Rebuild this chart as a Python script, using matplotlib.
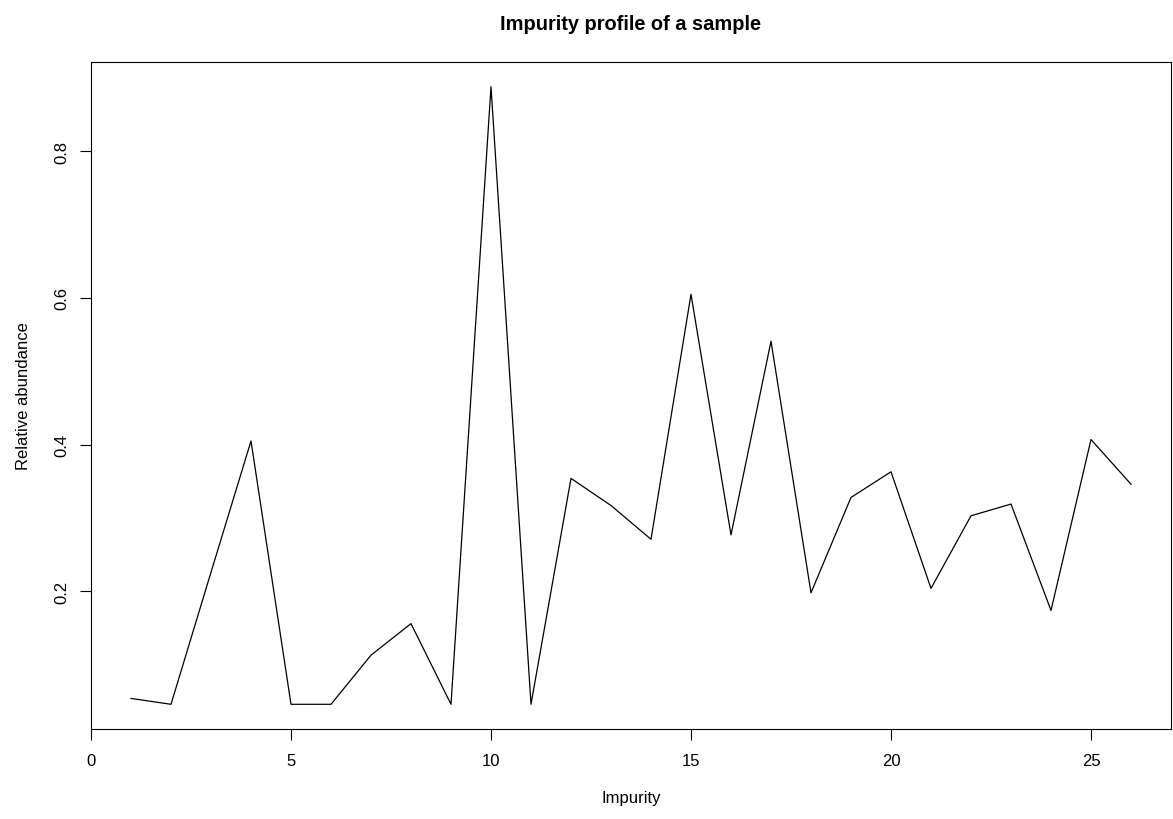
import numpy as np
import matplotlib
matplotlib.use("Agg")
import matplotlib.pyplot as plt

plt.rcParams['font.family'] = ['Liberation Sans', 'DejaVu Sans']

# impurity index and relative abundance
impurity = list(range(1, 27))
abundance = [0.054, 0.046, 0.226, 0.405, 0.046, 0.046, 0.113, 0.156, 0.046, 0.888,
             0.046, 0.354, 0.317, 0.271, 0.605, 0.277, 0.541, 0.198, 0.328, 0.363,
             0.204, 0.303, 0.319, 0.174, 0.407, 0.346]

xticks = [0, 5, 10, 15, 20, 25]
yticks = [0.2, 0.4, 0.6, 0.8]

fig = plt.figure(figsize=(11.73, 8.2), dpi=100)
ax = fig.add_axes([91/1173, 1 - 730/820, (1171 - 91)/1173, (730 - 63)/820])

ax.plot(impurity, abundance, color='black', linewidth=0.9)

# R style limits: 4% padding around the data range
xr = max(impurity) - min(impurity)
ax.set_xlim(min(impurity) - 0.04*xr, max(impurity) + 0.04*xr)
yr = max(abundance) - min(abundance)
ax.set_ylim(min(abundance) - 0.04*yr, max(abundance) + 0.04*yr)

ax.set_xticks(xticks)
ax.set_xticklabels([str(t) for t in xticks])
ax.set_yticks(yticks)
ax.set_yticklabels([str(t) for t in yticks], rotation=90, va='center')
ax.tick_params(direction='out', length=8, width=0.8, labelsize=12)
ax.tick_params(axis='x', pad=9)
ax.tick_params(axis='y', pad=7.5)

for s in ax.spines.values():
    s.set_linewidth(0.8)

ax.set_xlabel("Impurity", fontsize=12, labelpad=16)
ax.set_ylabel("Relative abundance", fontsize=12, labelpad=17)
ax.set_title("Impurity profile of a sample", fontsize=14.4, fontweight='bold', pad=24)

fig.savefig("out.png", dpi=100)
